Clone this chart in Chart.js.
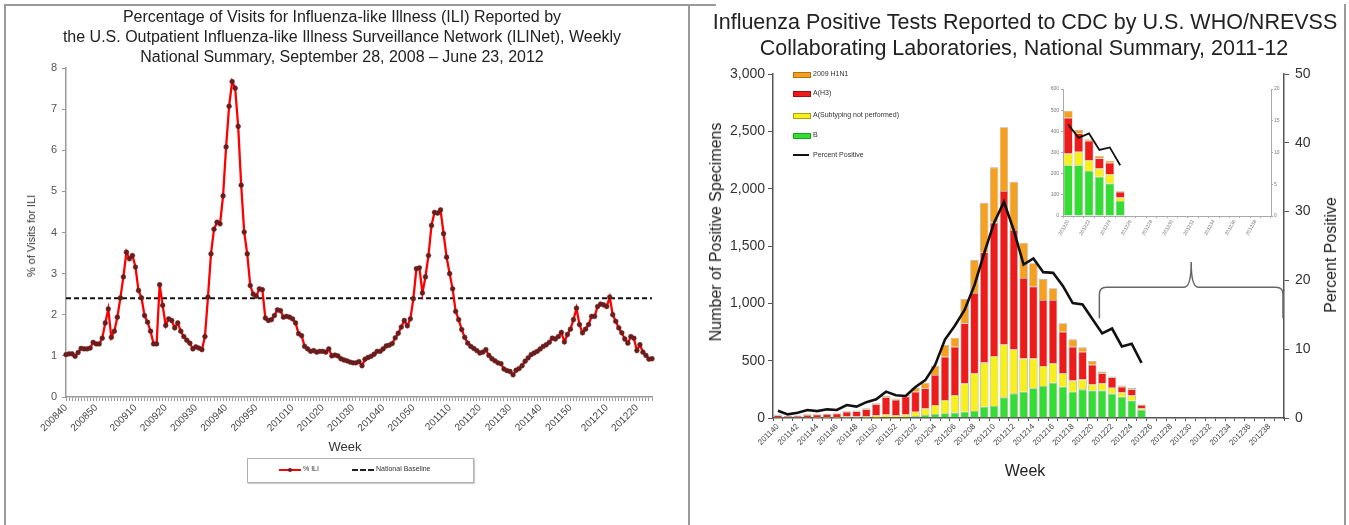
<!DOCTYPE html>
<html>
<head>
<meta charset="utf-8">
<title>ILI and lab surveillance</title>
<script src="https://cdn.jsdelivr.net/npm/chart.js@4.4.1/dist/chart.umd.min.js"></script>
<style>
  body { margin: 0; background: #fff; font-family: "Liberation Sans", Arial, sans-serif; color: #222; }
  #page { position: relative; width: 1349px; height: 525px; overflow: hidden; background: #fff; }
  canvas { position: absolute; }
  .t { position: absolute; white-space: nowrap; transform: translate(-50%, -50%); }
  .rot { transform: translate(-50%, -50%) rotate(-90deg); }
  .lg { position: absolute; font-size: 7px; color: #333; white-space: nowrap; }
  .sw { position: absolute; width: 16px; height: 4px; }
</style>
</head>
<body>
<div id="page">
  <div style="position:absolute;left:4px;top:4px;width:682px;height:540px;border-left:2px solid #9a9a9a;border-top:2px solid #9a9a9a;border-right:2px solid #9a9a9a;"></div>
  <div style="position:absolute;left:688px;top:4px;width:28px;height:2px;background:#9a9a9a;"></div>
  <div style="position:absolute;left:1344px;top:4px;width:2px;height:540px;background:#9a9a9a;"></div>

  <canvas id="iliChart" width="688" height="525" style="left:0;top:0"></canvas>
  <canvas id="labChart" width="661" height="525" style="left:688px;top:0"></canvas>
  <canvas id="insetChart" width="255" height="180" style="left:1030px;top:80px"></canvas>

  <!-- left panel text -->
  <div class="t" style="left:342px;top:17px;font-size:16px;">Percentage of Visits for Influenza-like Illness (ILI) Reported by</div>
  <div class="t" style="left:342px;top:37px;font-size:16px;">the U.S. Outpatient Influenza-like Illness Surveillance Network (ILINet), Weekly</div>
  <div class="t" style="left:342px;top:57px;font-size:16px;">National Summary, September 28, 2008 – June 23, 2012</div>
  <div class="t rot" style="left:31px;top:236px;font-size:11px;color:#333;">% of Visits for ILI</div>
  <div class="t" style="left:345px;top:446px;font-size:13px;color:#333;">Week</div>
  <div style="position:absolute;left:247px;top:458px;width:225px;height:23px;border:1px solid #b0b0b0;box-shadow:1px 1px 1px #d0d0d0;">
    <div style="position:absolute;left:31px;top:10px;width:22px;height:2px;background:#f00;"></div>
    <div style="position:absolute;left:40px;top:9px;width:4px;height:4px;border-radius:2px;background:#6b1c1c;"></div>
    <div class="lg" style="left:55px;top:6px;">% ILI</div>
    <div style="position:absolute;left:104px;top:10px;width:22px;border-top:2px dashed #222;"></div>
    <div class="lg" style="left:128px;top:6px;">National Baseline</div>
  </div>

  <!-- right panel text -->
  <div class="t" style="left:1025px;top:22px;font-size:21.5px;">Influenza Positive Tests Reported to CDC by U.S. WHO/NREVSS</div>
  <div class="t" style="left:1024px;top:48px;font-size:21.5px;">Collaborating Laboratories, National Summary, 2011-12</div>
  <div class="t rot" style="left:716px;top:232px;font-size:16px;">Number of Positive Specimens</div>
  <div class="t rot" style="left:1331px;top:255px;font-size:16px;">Percent Positive</div>
  <div class="t" style="left:1025px;top:471px;font-size:16px;">Week</div>

  <div class="sw" style="left:793px;top:72px;background:#f5a11f;border:1px solid #b07010;"></div>
  <div class="lg" style="left:813px;top:70px;">2009 H1N1</div>
  <div class="sw" style="left:793px;top:91px;background:#ee1b1b;border:1px solid #a01010;"></div>
  <div class="lg" style="left:813px;top:89px;">A(H3)</div>
  <div class="sw" style="left:793px;top:113px;background:#f7f01c;border:1px solid #a8a010;"></div>
  <div class="lg" style="left:813px;top:111px;">A(Subtyping not performed)</div>
  <div class="sw" style="left:793px;top:133px;background:#33dd33;border:1px solid #20a020;"></div>
  <div class="lg" style="left:813px;top:131px;">B</div>
  <div class="sw" style="left:793px;top:154px;height:2px;background:#111;"></div>
  <div class="lg" style="left:813px;top:151px;">Percent Positive</div>
</div>

<script>
Chart.defaults.font.family = '"Liberation Sans", Arial, sans-serif';

function weekRange(year, from, to) {
  const out = [];
  for (let w = from; w <= to; w++) out.push(String(year) + String(w).padStart(2, '0'));
  return out;
}

// ---- ILINet, 2008 week 40 to 2012 week 25 ----
const iliWeeks = [].concat(
  weekRange(2008, 40, 53), weekRange(2009, 1, 52), weekRange(2010, 1, 52),
  weekRange(2011, 1, 52), weekRange(2012, 1, 25)
);
const iliPct = [
  // 2008 w40-53
  1.03, 1.05, 1.05, 0.99, 1.08, 1.18, 1.17, 1.17, 1.19, 1.33, 1.29, 1.29, 1.43, 1.8,
  // 2009
  2.14, 1.45, 1.6, 1.94, 2.41, 2.92, 3.52, 3.36, 3.44, 3.16, 2.59, 2.41, 1.98, 1.82, 1.6, 1.29,
  1.29, 2.73, 2.23, 1.74, 1.9, 1.86, 1.68, 1.8, 1.6, 1.47, 1.38, 1.31, 1.17, 1.22, 1.19, 1.15,
  1.47, 2.43, 3.48, 4.08, 4.25, 4.21, 4.89, 6.08, 7.07, 7.67, 7.51, 6.58, 5.15, 4.01, 3.48, 2.71,
  2.5, 2.45, 2.63, 2.61,
  // 2010
  1.92, 1.86, 1.88, 1.98, 2.12, 2.1, 1.94, 1.96, 1.94, 1.9, 1.8, 1.54, 1.49, 1.23, 1.17, 1.11,
  1.13, 1.09, 1.11, 1.11, 1.09, 1.17, 1.0, 1.02, 1.0, 0.93, 0.9, 0.88, 0.85, 0.83, 0.83, 0.86,
  0.76, 0.92, 0.96, 0.99, 1.04, 1.11, 1.11, 1.17, 1.24, 1.26, 1.3, 1.44, 1.55, 1.7, 1.86, 1.73,
  1.9, 2.39, 3.12, 3.14,
  // 2011
  2.53, 2.92, 3.44, 4.17, 4.49, 4.47, 4.55, 3.97, 3.4, 3.0, 2.63, 2.08, 1.88, 1.64, 1.45, 1.31,
  1.23, 1.18, 1.13, 1.07, 1.09, 1.15, 1.01, 0.93, 0.88, 0.83, 0.81, 0.68, 0.64, 0.62, 0.54, 0.65,
  0.69, 0.76, 0.87, 0.95, 1.03, 1.07, 1.11, 1.17, 1.23, 1.27, 1.33, 1.43, 1.41, 1.47, 1.57, 1.34,
  1.52, 1.65, 1.88, 2.16,
  // 2012 w1-25
  1.76, 1.56, 1.65, 1.76, 1.96, 1.96, 2.2, 2.26, 2.24, 2.2, 2.43, 2.0, 1.84, 1.68, 1.56, 1.41,
  1.31, 1.47, 1.43, 1.13, 1.27, 1.09, 1.01, 0.92, 0.93
];
const iliBaseline = 2.4;
const iliTicks = [0, 1, 2, 3, 4, 5, 6, 7, 8];

// ---- WHO/NREVSS, 2011 week 40 to 2012 week 39 ----
const labWeeks = [].concat(weekRange(2011, 40, 52), weekRange(2012, 1, 39));
const fluB = [2, 2, 2, 2, 3, 3, 3, 4, 4, 5, 5, 6, 6, 8, 17, 26, 35, 41, 47, 55, 61, 99, 105, 180, 215, 230, 259, 279, 308, 273, 230, 250, 240, 240, 213, 185, 153, 71];
const fluANotSub = [4, 3, 4, 5, 5, 6, 6, 8, 10, 12, 20, 25, 20, 22, 38, 58, 78, 116, 153, 247, 329, 384, 436, 462, 384, 290, 261, 175, 169, 117, 96, 87, 55, 63, 51, 39, 44, 16];
const fluAH3 = [18, 12, 15, 20, 22, 25, 30, 42, 45, 60, 95, 150, 133, 158, 175, 175, 262, 378, 422, 524, 700, 962, 1163, 1338, 1041, 701, 628, 575, 552, 363, 296, 241, 169, 87, 91, 48, 54, 27];
const fluH1N1 = [6, 3, 4, 5, 5, 4, 6, 6, 6, 8, 8, 11, 10, 12, 37, 49, 78, 102, 78, 212, 288, 433, 482, 555, 421, 308, 201, 183, 102, 73, 64, 38, 33, 16, 8, 11, 10, 4];
const pctPositive = [1.06, 0.53, 0.77, 1.16, 1.0, 1.26, 1.16, 1.89, 1.65, 2.3, 2.71, 3.83, 3.3, 3.2, 4.5, 5.5, 7.7, 11.4, 13.4, 15.7, 19.3, 24.0, 28.4, 31.4, 27.3, 22.3, 23.2, 21.2, 21.1, 19.2, 16.7, 16.5, 14.4, 12.3, 13.0, 10.4, 10.8, 8.0];
const countTicks = [0, 500, 1000, 1500, 2000, 2500, 3000];
const pctTicks = [0, 10, 20, 30, 40, 50];
const insetCountTicks = [0, 100, 200, 300, 400, 500, 600];
const insetPctTicks = [0, 5, 10, 15, 20];

const colB = '#33dd33', colA = '#f7f01c', colH3 = '#ee1b1b', colH1 = '#f5a11f';

// dashed national baseline across the plot
const baselinePlugin = {
  id: 'baseline',
  beforeDatasetsDraw(chart) {
    const {ctx, chartArea, scales: {y}} = chart;
    const py = y.getPixelForValue(iliBaseline);
    ctx.save();
    ctx.strokeStyle = '#111';
    ctx.lineWidth = 2;
    ctx.setLineDash([5, 3]);
    ctx.beginPath();
    ctx.moveTo(chartArea.left, py);
    ctx.lineTo(chartArea.right, py);
    ctx.stroke();
    ctx.restore();
  }
};

new Chart(document.getElementById('iliChart'), {
  type: 'line',
  data: {
    labels: iliWeeks,
    datasets: [{
      label: '% ILI',
      data: iliPct,
      borderColor: '#ff0000',
      borderWidth: 2.3,
      pointRadius: 2.4,
      pointBackgroundColor: '#6b1c1c',
      pointBorderColor: '#6b1c1c',
      pointBorderWidth: 0.5,
      tension: 0
    }]
  },
  plugins: [baselinePlugin],
  options: {
    responsive: false,
    animation: false,
    layout: { padding: { left: 16, right: 36, top: 68, bottom: 78 } },
    plugins: { legend: { display: false }, tooltip: { enabled: false } },
    scales: {
      x: {
        grid: { drawOnChartArea: false, color: '#9a9a9a', tickLength: 4 },
        border: { color: '#9a9a9a', width: 1.5 },
        ticks: {
          autoSkip: false, maxRotation: 45, minRotation: 45, padding: 1,
          color: '#444', font: { size: 10 },
          callback: (v, i) => (iliWeeks[i].endsWith('0') ? iliWeeks[i] : '')
        },
        afterFit: (s) => { s.height = 50; }
      },
      y: {
        min: 0, max: 8,
        afterBuildTicks: (s) => { s.ticks = iliTicks.map(v => ({ value: v })); },
        grid: { drawOnChartArea: false, color: '#9a9a9a', tickLength: 4 },
        border: { color: '#9a9a9a', width: 1.5 },
        ticks: { color: '#555', font: { size: 11 }, padding: 5 },
        afterFit: (s) => { s.width = 50; }
      }
    }
  }
});

// curly bracket pointing to the inset (later weeks)
const bracketPlugin = {
  id: 'bracket',
  afterDatasetsDraw(chart) {
    const {ctx, chartArea, scales: {x, y}} = chart;
    const left = x.getPixelForValue(labWeeks.indexOf('201220')) + 7;
    const right = chartArea.right - 1;
    const top = y.getPixelForValue(1140);
    const bottom = y.getPixelForValue(870);
    const tip = y.getPixelForValue(1360);
    const mid = (left + right) / 2;
    ctx.save();
    ctx.strokeStyle = '#666';
    ctx.lineWidth = 1.5;
    ctx.beginPath();
    ctx.moveTo(left, bottom);
    ctx.lineTo(left, top + 7);
    ctx.quadraticCurveTo(left, top, left + 7, top);
    ctx.lineTo(mid - 7, top);
    ctx.quadraticCurveTo(mid, top, mid, tip);
    ctx.quadraticCurveTo(mid, top, mid + 7, top);
    ctx.lineTo(right - 7, top);
    ctx.quadraticCurveTo(right, top, right, top + 7);
    ctx.lineTo(right, bottom);
    ctx.stroke();
    ctx.restore();
  }
};

const barStyle = { stack: 'flu', order: 1, borderColor: 'rgba(110,110,110,0.55)', borderWidth: 0.8, barPercentage: 0.86, categoryPercentage: 1 };

new Chart(document.getElementById('labChart'), {
  type: 'bar',
  data: {
    labels: labWeeks,
    datasets: [
      { type: 'line', label: 'Percent Positive', data: pctPositive, yAxisID: 'y1', order: 0,
        borderColor: '#111', borderWidth: 2.6, pointRadius: 0, tension: 0 },
      Object.assign({ label: 'B', data: fluB, backgroundColor: colB }, barStyle),
      Object.assign({ label: 'A(Subtyping not performed)', data: fluANotSub, backgroundColor: colA }, barStyle),
      Object.assign({ label: 'A(H3)', data: fluAH3, backgroundColor: colH3 }, barStyle),
      Object.assign({ label: '2009 H1N1', data: fluH1N1, backgroundColor: colH1 }, barStyle)
    ]
  },
  plugins: [bracketPlugin],
  options: {
    responsive: false,
    animation: false,
    layout: { padding: { left: 25, right: 15, top: 74, bottom: 57 } },
    plugins: { legend: { display: false }, tooltip: { enabled: false } },
    scales: {
      x: {
        stacked: true,
        grid: { drawOnChartArea: false, color: '#555', tickLength: 3 },
        border: { color: '#555', width: 1.5 },
        ticks: {
          autoSkip: false, maxRotation: 45, minRotation: 45, padding: 1,
          color: '#444', font: { size: 8 },
          callback: (v, i) => (i % 2 === 0 ? labWeeks[i] : '')
        },
        afterFit: (s) => { s.height = 50; }
      },
      y: {
        stacked: true, min: 0, max: 3000,
        afterBuildTicks: (s) => { s.ticks = countTicks.map(v => ({ value: v })); },
        grid: { drawOnChartArea: false, color: '#555', tickLength: 5 },
        border: { color: '#555', width: 1.5 },
        ticks: { color: '#333', font: { size: 14 }, padding: 3, callback: (v) => v.toLocaleString('en-US') },
        afterFit: (s) => { s.width = 60; }
      },
      y1: {
        position: 'right', min: 0, max: 50,
        afterBuildTicks: (s) => { s.ticks = pctTicks.map(v => ({ value: v })); },
        grid: { drawOnChartArea: false, color: '#555', tickLength: 5 },
        border: { color: '#555', width: 1.5 },
        ticks: { color: '#333', font: { size: 14 }, padding: 6 },
        afterFit: (s) => { s.width = 50; }
      }
    }
  }
});

// inset: zoom on 201220 onward
const insetStart = labWeeks.indexOf('201220');
const insetWeeks = labWeeks.slice(insetStart);
const insetBar = { stack: 'flu', order: 1, borderColor: 'rgba(110,110,110,0.5)', borderWidth: 0.6, barPercentage: 0.85, categoryPercentage: 1 };

new Chart(document.getElementById('insetChart'), {
  type: 'bar',
  data: {
    labels: insetWeeks,
    datasets: [
      { type: 'line', label: 'Percent Positive', data: pctPositive.slice(insetStart), yAxisID: 'y1', order: 0,
        borderColor: '#111', borderWidth: 1.8, pointRadius: 0, tension: 0 },
      Object.assign({ label: 'B', data: fluB.slice(insetStart), backgroundColor: colB }, insetBar),
      Object.assign({ label: 'A(Subtyping not performed)', data: fluANotSub.slice(insetStart), backgroundColor: colA }, insetBar),
      Object.assign({ label: 'A(H3)', data: fluAH3.slice(insetStart), backgroundColor: colH3 }, insetBar),
      Object.assign({ label: '2009 H1N1', data: fluH1N1.slice(insetStart), backgroundColor: colH1 }, insetBar)
    ]
  },
  options: {
    responsive: false,
    animation: false,
    layout: { padding: { left: 8, right: 4, top: 9, bottom: 4 } },
    plugins: { legend: { display: false }, tooltip: { enabled: false } },
    scales: {
      x: {
        stacked: true,
        grid: { drawOnChartArea: false, color: '#aaa', tickLength: 2 },
        border: { color: '#aaa', width: 1 },
        ticks: {
          autoSkip: false, maxRotation: 60, minRotation: 60, padding: 1,
          color: '#777', font: { size: 5 },
          callback: (v, i) => (i % 2 === 0 ? insetWeeks[i] : '')
        },
        afterFit: (s) => { s.height = 40; }
      },
      y: {
        stacked: true, min: 0, max: 600,
        afterBuildTicks: (s) => { s.ticks = insetCountTicks.map(v => ({ value: v })); },
        grid: { drawOnChartArea: false, color: '#aaa', tickLength: 2 },
        border: { color: '#aaa', width: 1 },
        ticks: { color: '#777', font: { size: 5 }, padding: 2 },
        afterFit: (s) => { s.width = 25; }
      },
      y1: {
        position: 'right', min: 0, max: 20,
        afterBuildTicks: (s) => { s.ticks = insetPctTicks.map(v => ({ value: v })); },
        grid: { drawOnChartArea: false, color: '#aaa', tickLength: 2 },
        border: { color: '#aaa', width: 1 },
        ticks: { color: '#777', font: { size: 5 }, padding: 1 },
        afterFit: (s) => { s.width = 10; }
      }
    }
  }
});
</script>
</body>
</html>
